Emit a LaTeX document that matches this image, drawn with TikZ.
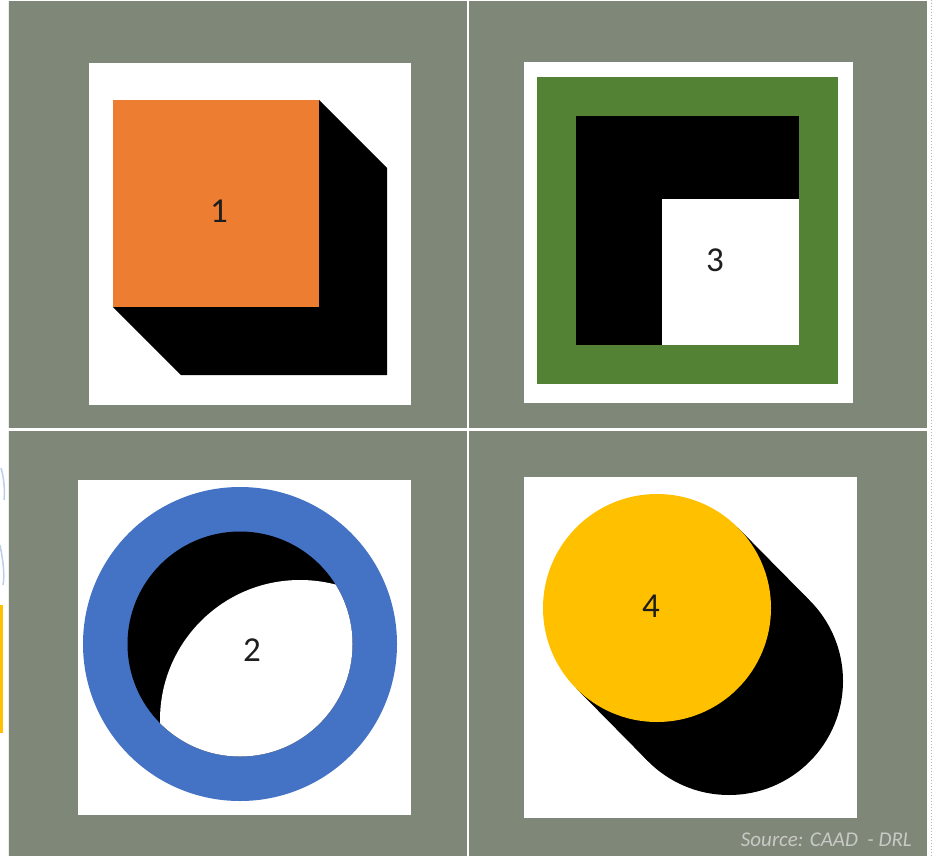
\documentclass[tikz,border=0pt]{standalone}
\usepackage{fontspec}
\setmainfont{Carlito}
\definecolor{bg}{RGB}{127,135,120}
\definecolor{orangeA}{RGB}{237,125,49}
\definecolor{greenA}{RGB}{84,130,53}
\definecolor{blueA}{RGB}{68,114,196}
\definecolor{yellowA}{RGB}{255,192,0}
\definecolor{srcgray}{RGB}{200,202,198}
\definecolor{digit}{RGB}{30,30,30}
\tikzset{
  digitlabel/.style={text=digit, font=\fontsize{35}{35}\selectfont, inner sep=0pt},
  panel/.style={fill=white},
}
\begin{document}
\begin{tikzpicture}[x=1pt,y=-1pt]
\useasboundingbox (0,0) rectangle (933,856);
% page and background
\fill[white] (0,0) rectangle (933,856);
\fill[bg] (8,1) rectangle (927,856);
\draw[white!85!bg, line width=0.8pt] (8.4,1) -- (8.4,856);
\draw[white, line width=2.6pt] (468,1) -- (468,856);
\draw[white, line width=3pt] (8,429.5) -- (927,429.5);
\draw[black!30, dotted, line width=1pt] (931,0) -- (931,856);
% left-edge artefacts
\fill[yellowA] (0,605) rectangle (3,733);
\draw[blueA!35, line width=1.5pt] (1,468) .. controls (4,478) and (5,490) .. (4,500);
\draw[blueA!35, line width=1.5pt] (0,545) .. controls (3,560) and (5,575) .. (3,585);

% ---------- panel 1 ----------
\fill[panel] (89,63) rectangle (411,405);
\fill[black] (319,100) -- (387,168) -- (387,375) -- (181,375) -- (113,307) -- (319,307) -- cycle;
\fill[orangeA] (113,100) rectangle (319,307);
\node[digitlabel] (n1) at (219,211) {1};

% ---------- panel 3 ----------
\fill[panel] (524,62) rectangle (853,403);
\fill[greenA] (537,77) rectangle (838,384);
\fill[black] (576,116) rectangle (799,345);
\fill[white] (662,199) rectangle (799,345);
\node[digitlabel] (n3) at (715,260) {3};

% ---------- panel 2 ----------
\fill[panel] (78,480) rectangle (411,815);
\fill[blueA] (240,644) circle (157pt);
\fill[black] (240,644) circle (112.5pt);
\begin{scope}
  \clip (240,644) circle (112.5pt);
  \fill[white] (300,720) circle (140pt);
\end{scope}
\node[digitlabel] (n2) at (252,650) {2};

% ---------- panel 4 ----------
\fill[panel] (524,477) rectangle (857,818);
\fill[black] (729,681) circle (114pt);
\fill[black] (737.6,527.4) -- (809.6,600.4) -- (648.4,761.6) -- (576.4,688.6) -- cycle;
\fill[yellowA] (657,608) circle (114pt);
\node[digitlabel] (n4) at (651,606) {4};

% source
\node[anchor=base east, text=srcgray, font=\itshape\fontsize{21}{21}\selectfont, inner sep=0pt] (src) at (912,846) {Source: CAAD \ - DRL};
\end{tikzpicture}
\end{document}
